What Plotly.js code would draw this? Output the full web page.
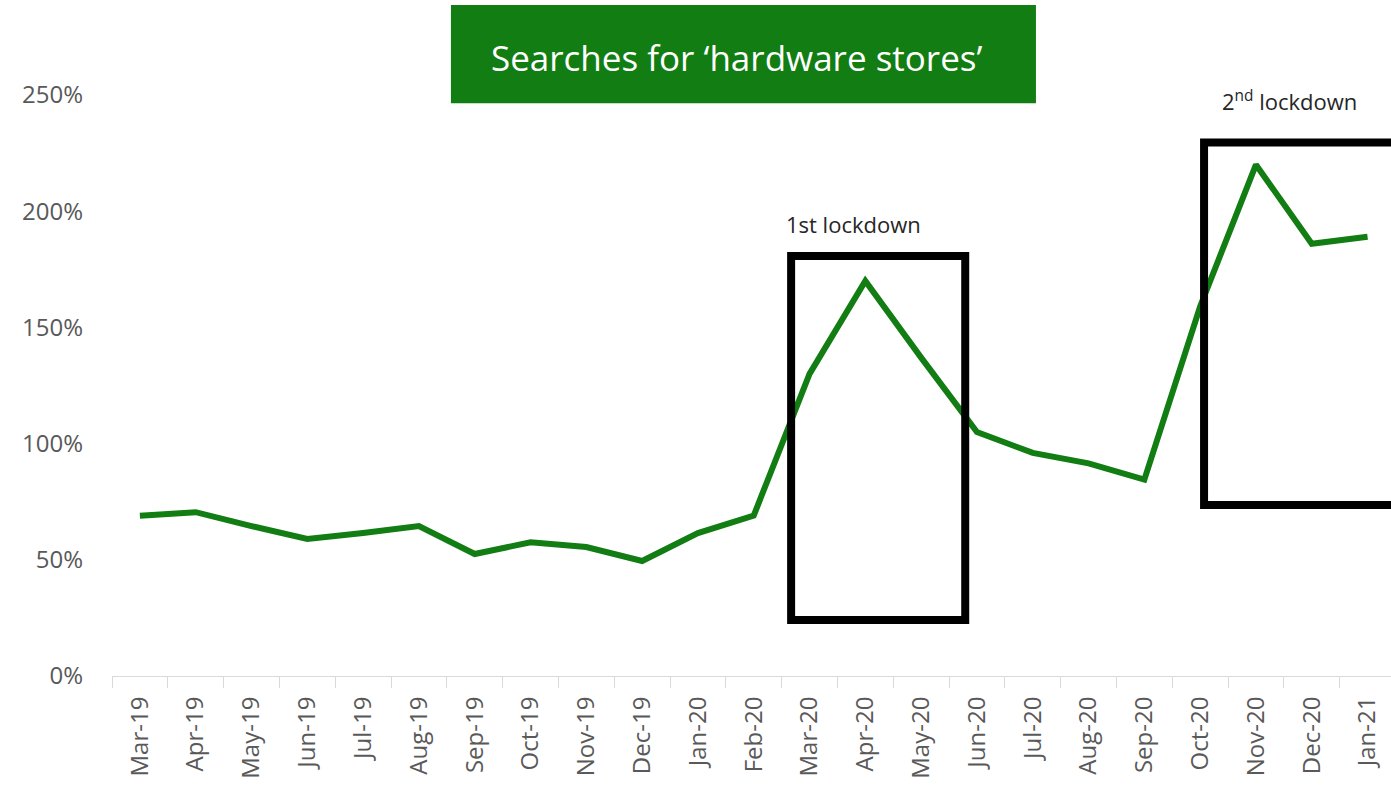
<!DOCTYPE html>
<html>
<head>
<meta charset="utf-8">
<script src="https://cdn.plot.ly/plotly-3.0.1.min.js"></script>
<style>
html,body{margin:0;padding:0;background:#fff;}
#chart{width:1391px;height:789px;}
</style>
</head>
<body>
<div id="chart"></div>
<script>
const months = ["Mar-19","Apr-19","May-19","Jun-19","Jul-19","Aug-19","Sep-19","Oct-19","Nov-19","Dec-19","Jan-20","Feb-20","Mar-20","Apr-20","May-20","Jun-20","Jul-20","Aug-20","Sep-20","Oct-20","Nov-20","Dec-20","Jan-21"];
const searchIndex = [69, 70.5, 64.5, 59, 61.5, 64.5, 52.5, 57.5, 55.5, 49.5, 61.5, 69, 130, 170, 137, 105, 96, 91.5, 84.5, 159, 220, 186, 189];
const yTicks = [0, 50, 100, 150, 200, 250];
const yTickText = ["0%", "50%", "100%", "150%", "200%", "250%"];
const titleText = "Searches for \u2018hardware stores\u2019";
const lockdownLabels = ["1st lockdown", "2<sup>nd</sup> lockdown"];
// lockdown boxes: [x0, x1, y0, y1] in category index / percent
const lockdownBoxes = [[11.67, 14.79, 24.1, 180.7], [19.07, 23.5, 73.6, 229.6]];
const lockdownLabelPos = [[12.79, 194.5], [20.6, 247.6]];

const green = "#127D12";

const trace = {
  x: months,
  y: searchIndex,
  type: "scatter",
  mode: "lines",
  line: {color: green, width: 6},
  hoverinfo: "skip"
};

const shapes = lockdownBoxes.map(b => ({
  type: "rect", xref: "x", yref: "y",
  x0: b[0], x1: b[1], y0: b[2], y1: b[3],
  line: {color: "#000", width: 8},
  fillcolor: "rgba(0,0,0,0)",
  layer: "above"
}));
shapes.push({
  type: "rect", xref: "paper", yref: "paper",
  x0: 0.265, x1: 0.7224, y0: 0.986, y1: 1.155,
  line: {width: 0}, fillcolor: green, layer: "above"
});

const annotations = lockdownLabels.map((t, i) => ({
  text: t, xref: "x", yref: "y",
  x: lockdownLabelPos[i][0], y: lockdownLabelPos[i][1],
  xanchor: "center", yanchor: "middle",
  showarrow: false,
  font: {family: "Open Sans, sans-serif", size: 22, color: "#262626"}
}));
annotations.push({
  text: titleText, xref: "paper", yref: "paper",
  x: 0.4887, y: 1.0637, xanchor: "center", yanchor: "middle",
  showarrow: false,
  font: {family: "Open Sans, sans-serif", size: 35, color: "#ffffff"}
});

const layout = {
  width: 1391, height: 789,
  margin: {l: 112, r: 0, t: 95, b: 113, pad: 0},
  paper_bgcolor: "#fff", plot_bgcolor: "#fff",
  showlegend: false,
  xaxis: {
    type: "category",
    categoryorder: "array",
    categoryarray: months,
    range: [-0.5, 22.42],
    tickangle: -90,
    ticks: "outside",
    tickson: "boundaries",
    ticklen: 11,
    tickcolor: "#d9d9d9",
    tickwidth: 1,
    ticklabelstandoff: 10,
    showline: true, linecolor: "#d9d9d9", linewidth: 1,
    showgrid: false, zeroline: false,
    tickfont: {family: "Open Sans, sans-serif", size: 24, color: "#595959"},
    automargin: false
  },
  yaxis: {
    range: [0, 250],
    tickmode: "array",
    tickvals: yTicks,
    ticktext: yTickText,
    showgrid: false, zeroline: false, showline: false,
    ticks: "",
    ticklabelstandoff: 28,
    tickfont: {family: "Open Sans, sans-serif", size: 24, color: "#595959"},
    automargin: false
  },
  shapes: shapes,
  annotations: annotations
};

Plotly.newPlot("chart", [trace], layout, {displayModeBar: false, staticPlot: true});
</script>
</body>
</html>
